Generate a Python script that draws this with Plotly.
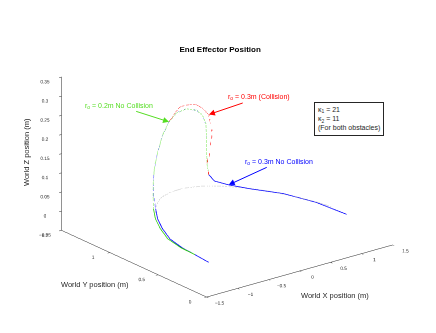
import plotly.graph_objects as go

# blue run (r_o = 0.3m, no collision): start -> left rise -> over the top -> down -> end
blue_x = [-1.14, -1.11, -1.09, -1.06, -0.95, -0.87, -0.76, -0.73, -0.69, -0.56, -0.46, -0.33, -0.19, -0.06,
          0.08, 0.20, 0.26, 0.30, 0.31, 0.31, 0.32, 0.33, 0.39, 0.54, 0.74, 0.98, 1.17, 1.29]
blue_y = [0.21, 0.37, 0.51, 0.66, 0.81, 0.91, 1.00, 1.04, 1.07, 1.14, 1.17, 1.21, 1.23, 1.23,
          1.22, 1.19, 1.17, 1.16, 1.16, 1.16, 1.16, 1.15, 1.13, 1.08, 0.98, 0.80, 0.58, 0.34]
blue_z = [0.0, 0.0, 0.0, 0.005, 0.01, 0.02, 0.03, 0.06, 0.09, 0.115, 0.146, 0.175, 0.205, 0.223,
          0.228, 0.222, 0.209, 0.185, 0.15, 0.111, 0.077, 0.053, 0.036, 0.025, 0.017, 0.015, 0.009, 0.0]

# green run (r_o = 0.2m, no collision)
green_x = [-1.14, -1.11, -1.10, -1.08, -0.97, -0.89, -0.78, -0.74, -0.69, -0.56, -0.46, -0.33, -0.19, -0.06,
           0.08, 0.20, 0.26, 0.30, 0.31, 0.31, 0.32, 0.33, 0.39, 0.54, 0.74, 0.98, 1.17, 1.29]
green_y = [0.21, 0.37, 0.52, 0.67, 0.82, 0.92, 1.01, 1.04, 1.07, 1.14, 1.17, 1.21, 1.23, 1.23,
           1.22, 1.19, 1.17, 1.16, 1.16, 1.16, 1.16, 1.15, 1.13, 1.08, 0.98, 0.80, 0.58, 0.34]
green_z = [0.0, 0.0, 0.0, 0.005, 0.01, 0.02, 0.03, 0.06, 0.09, 0.115, 0.146, 0.175, 0.205, 0.223,
           0.228, 0.222, 0.209, 0.185, 0.15, 0.111, 0.077, 0.053, 0.036, 0.025, 0.017, 0.015, 0.009, 0.0]

# red run (r_o = 0.3m, collision) - higher hump
red_x = [-1.14, -1.11, -1.09, -1.06, -0.95, -0.87, -0.76, -0.73, -0.69, -0.56, -0.46, -0.33, -0.19,
         -0.09, -0.01, 0.06, 0.15, 0.21, 0.25, 0.28, 0.33, 0.35, 0.36, 0.37, 0.35, 0.34, 0.32,
         0.33, 0.39, 0.54, 0.74, 0.98, 1.17, 1.29]
red_y = [0.21, 0.37, 0.51, 0.66, 0.81, 0.91, 1.00, 1.04, 1.07, 1.14, 1.17, 1.21, 1.23,
         1.23, 1.23, 1.22, 1.21, 1.20, 1.18, 1.17, 1.15, 1.15, 1.14, 1.14, 1.15, 1.15, 1.16,
         1.15, 1.13, 1.08, 0.98, 0.80, 0.58, 0.34]
red_z = [0.0, 0.0, 0.0, 0.005, 0.01, 0.02, 0.03, 0.06, 0.09, 0.115, 0.146, 0.175, 0.205,
         0.223, 0.236, 0.238, 0.238, 0.235, 0.229, 0.222, 0.21, 0.194, 0.176, 0.155, 0.129, 0.105, 0.084,
         0.053, 0.036, 0.025, 0.017, 0.015, 0.009, 0.0]

# grey reference arc
ref_x = [-0.72, -0.53, -0.33, -0.11, 0.11, 0.33, 0.53, 0.72, 0.89, 1.03, 1.14, 1.18]
ref_y = [1.03, 1.14, 1.22, 1.26, 1.26, 1.22, 1.14, 1.03, 0.89, 0.72, 0.53, 0.43]
ref_z = [0.015] * 12

BLUE, GREEN, LIME, RED = "#0000ff", "#22cc00", "#44dd11", "#ff0000"

fig = go.Figure()

def add_path(xs, ys, zs, color, dash, width=1.5):
    fig.add_trace(go.Scatter3d(x=xs, y=ys, z=zs, mode="lines",
                               line=dict(color=color, width=width, dash=dash),
                               hoverinfo="skip", showlegend=False))

add_path(ref_x, ref_y, ref_z, "#b0b0b0", "dot")
add_path(blue_x[6:22], blue_y[6:22], blue_z[6:22], BLUE, "dot")
add_path(red_x[12:28], red_y[12:28], red_z[12:28], RED, "dot")
add_path(green_x[6:22], green_y[6:22], green_z[6:22], LIME, "dot")
add_path(green_x[:7], green_y[:7], green_z[:7], GREEN, "solid")
add_path(green_x[21:], green_y[21:], green_z[21:], GREEN, "solid")
add_path(blue_x[:7], blue_y[:7], blue_z[:7], BLUE, "solid")
add_path(blue_x[21:], blue_y[21:], blue_z[21:], BLUE, "solid")

tick_font = dict(family="Liberation Sans", size=7.5, color="#262626")
ax_common = dict(showbackground=False, showgrid=False, zeroline=False, showline=True,
                 linecolor="#262626", linewidth=1, ticks="outside", ticklen=3,
                 tickcolor="#262626", tickfont=tick_font, tickangle=0, title=dict(text=""),
                 showspikes=False)

sub = "<sub>o</sub>"
scene_ann = [
    dict(x=-0.19, y=1.23, z=0.205, text="r" + sub + " = 0.2m No Collision", ax=-50, ay=-16,
         font=dict(family="Liberation Sans", size=7, color="#55dd22"),
         arrowcolor="#55dd22", arrowhead=2, arrowsize=1.2, arrowwidth=1),
    dict(x=0.33, y=1.15, z=0.21, text="r" + sub + " = 0.3m (Collision)", ax=50, ay=-17,
         font=dict(family="Liberation Sans", size=7, color=RED),
         arrowcolor=RED, arrowhead=2, arrowsize=1.2, arrowwidth=1),
    dict(x=0.54, y=1.08, z=0.025, text="r" + sub + " = 0.3m No Collision", ax=50, ay=-23,
         font=dict(family="Liberation Sans", size=7, color=BLUE),
         arrowcolor=BLUE, arrowhead=2, arrowsize=1.2, arrowwidth=1),
]

label_font = dict(family="Liberation Sans", size=7.5, color="#262626")

fig.update_layout(
    width=436, height=333,
    paper_bgcolor="white",
    margin=dict(l=0, r=0, t=0, b=0),
    title=dict(text="<b>End Effector Position</b>", x=0.505, y=0.853, xanchor="center", yanchor="middle",
               font=dict(family="Liberation Sans", size=8, color="black")),
    scene=dict(
        domain=dict(x=[0.042, 1.0], y=[0.033, 1.0]),
        xaxis=dict(ax_common, range=[-1.5, 1.5], tickvals=[-1.5, -1, -0.5, 0, 0.5, 1, 1.5]),
        yaxis=dict(ax_common, range=[0, 1.5], tickvals=[0, 0.5, 1, 1.5]),
        zaxis=dict(ax_common, range=[-0.05, 0.35],
                   tickvals=[-0.05, 0, 0.05, 0.1, 0.15, 0.2, 0.25, 0.3, 0.35]),
        aspectmode="manual", aspectratio=dict(x=1.465, y=1.465, z=1.02),
        camera=dict(eye=dict(x=-1.6, y=-2.05, z=1.0), up=dict(x=0, y=0, z=1),
                    center=dict(x=0, y=0, z=0), projection=dict(type="orthographic")),
        annotations=scene_ann,
    ),
    annotations=[
        dict(text="κ<sub>1</sub> = 21<br>κ<sub>2</sub> = 11<br>(For both obstacles)",
             x=314 / 436, y=1 - 102 / 333, xref="paper", yref="paper", xanchor="left", yanchor="top",
             align="left", showarrow=False, bordercolor="#262626", borderwidth=1, borderpad=3,
             bgcolor="white", font=dict(family="Liberation Sans", size=7, color="#262626")),
        dict(text="World Z position (m)", x=27 / 436, y=1 - 152 / 333, xref="paper", yref="paper",
             xanchor="center", yanchor="middle", textangle=-90, showarrow=False, font=label_font),
        dict(text="World Y position (m)", x=95 / 436, y=1 - 284 / 333, xref="paper", yref="paper",
             xanchor="center", yanchor="middle", showarrow=False, font=label_font),
        dict(text="World X position (m)", x=335 / 436, y=1 - 295 / 333, xref="paper", yref="paper",
             xanchor="center", yanchor="middle", showarrow=False, font=label_font),
    ],
    showlegend=False,
)

fig.write_html("out.html", config={"displayModeBar": False},
               post_script="document.body.style.margin='0px';")
